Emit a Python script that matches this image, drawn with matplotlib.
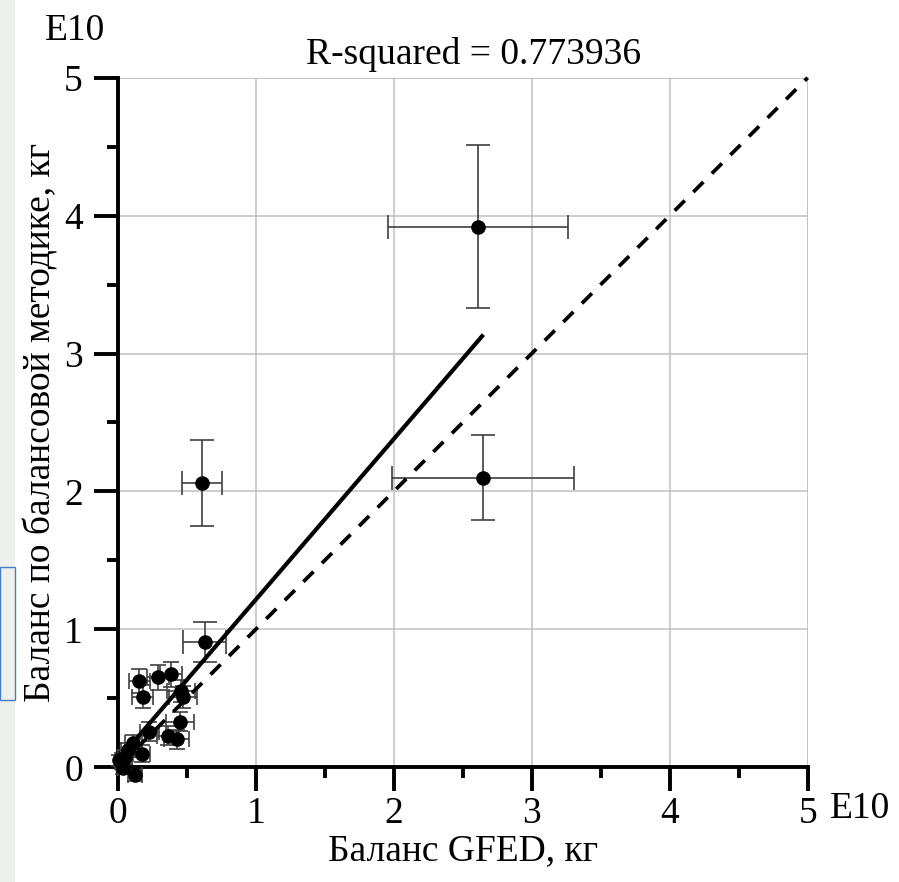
import matplotlib
matplotlib.use("Agg")
import matplotlib.pyplot as plt
from matplotlib.patches import Rectangle
import numpy as np

# Data (units of 1e10 kg)
gfed_x = [2.61, 0.61, 2.65, 0.63, 0.157, 0.181, 0.29, 0.384, 0.46, 0.475, 0.451,
          0.229, 0.362, 0.427, 0.174, 0.113, 0.077, 0.053, 0.029, 0.04, 0.125, 0.012]
balance_y = [3.92, 2.06, 2.10, 0.91, 0.626, 0.512, 0.653, 0.674, 0.55, 0.51, 0.331,
             0.258, 0.229, 0.203, 0.10, 0.174, 0.125, 0.077, 0.029, -0.007, -0.056, 0.05]
x_err = [0.65, 0.145, 0.66, 0.155, 0.075, 0.075, 0.08, 0.08, 0.10, 0.10, 0.10,
         0.07, 0.08, 0.09, 0.06, 0.06, 0.05, 0.05, 0.04, 0.04, 0.05, 0.03]
y_err = [0.59, 0.31, 0.31, 0.145, 0.085, 0.085, 0.09, 0.09, 0.08, 0.08, 0.07,
         0.07, 0.07, 0.07, 0.06, 0.06, 0.05, 0.05, 0.04, 0.04, 0.04, 0.04]

fit_x = [0.0, 2.65]
fit_y = [0.05, 3.137]
one_x = [0, 5]
one_y = [0, 5]

ticks = [0, 1, 2, 3, 4, 5]
minor_ticks = [0.5, 1.5, 2.5, 3.5, 4.5]
r2_text = "R-squared = 0.773936"
xlabel = "Баланс GFED, кг"
ylabel = "Баланс по балансовой методике, кг"

plt.rcParams['font.family'] = ['Liberation Serif', 'DejaVu Serif']
FS = 27

fig = plt.figure(figsize=(8.99, 8.82), dpi=100)
fig.patch.set_facecolor('white')
fig.patches.append(Rectangle((0, 0), 15/899, 1, transform=fig.transFigure,
                             facecolor='#eef0ee', edgecolor='none', zorder=0))
fig.patches.append(Rectangle((0, 1-700/882), 15/899, 133/882, transform=fig.transFigure,
                             facecolor='none', edgecolor='#4a7cc4', lw=1.0, zorder=1))

ax = fig.add_axes([117.7/899, 1-767.3/882, 690/899, 689.6/882])
ax.set_xlim(0, 5)
ax.set_ylim(0, 5)

ax.grid(True, color='#c0c0c0', lw=1.1)
ax.set_axisbelow(True)
ax.axvline(5, color='#c0c0c0', lw=1.1, zorder=0.5)
ax.axhline(5, color='#c0c0c0', lw=1.1, zorder=0.5)

big = slice(0, 4)
small = slice(4, None)
ax.errorbar(gfed_x[big], balance_y[big], xerr=x_err[big], yerr=y_err[big], fmt='none',
            ecolor='#404040', elinewidth=1.2, capsize=8.5, capthick=1.2, zorder=3,
            clip_on=False)
ax.errorbar(gfed_x[small], balance_y[small], xerr=x_err[small], yerr=y_err[small],
            fmt='none', ecolor='#404040', elinewidth=1.2, capsize=6, capthick=1.2,
            zorder=3, clip_on=False)
ax.plot(gfed_x, balance_y, 'o', color='black', ms=9.5, zorder=4, clip_on=False)
ax.plot(fit_x, fit_y, color='black', lw=3.0, solid_capstyle='butt', zorder=5)
ax.plot(one_x, one_y, color='black', lw=2.7, ls=(0, (3.8, 3.2)), zorder=5,
        clip_on=False)

for s in ['top', 'right']:
    ax.spines[s].set_visible(False)
for s in ['left', 'bottom']:
    ax.spines[s].set_linewidth(2.8)

ax.set_xticks(ticks)
ax.set_yticks(ticks)
ax.set_xticks(minor_ticks, minor=True)
ax.set_yticks(minor_ticks, minor=True)
ax.set_xticklabels([str(t) for t in ticks])
ax.set_yticklabels([str(t) for t in ticks])
ax.tick_params(which='major', length=17, width=2.8, labelsize=FS, direction='out')
ax.tick_params(axis='x', which='major', pad=4)
ax.tick_params(axis='y', which='major', pad=8)
ax.tick_params(which='minor', length=8, width=2.8, direction='out')
ax.tick_params(which='minor', grid_alpha=0)

ax.set_xlabel(xlabel, fontsize=FS, labelpad=2)
ax.set_ylabel(ylabel, fontsize=FS, labelpad=4)

fig.text(474/899, 1-64/882, r2_text, fontsize=FS, ha='center', va='baseline')
fig.text(45/899, 1-40/882, "E10", fontsize=FS, ha='left', va='baseline')
fig.text(830/899, 1-818/882, "E10", fontsize=FS, ha='left', va='baseline')

fig.savefig("out.png", dpi=100)
